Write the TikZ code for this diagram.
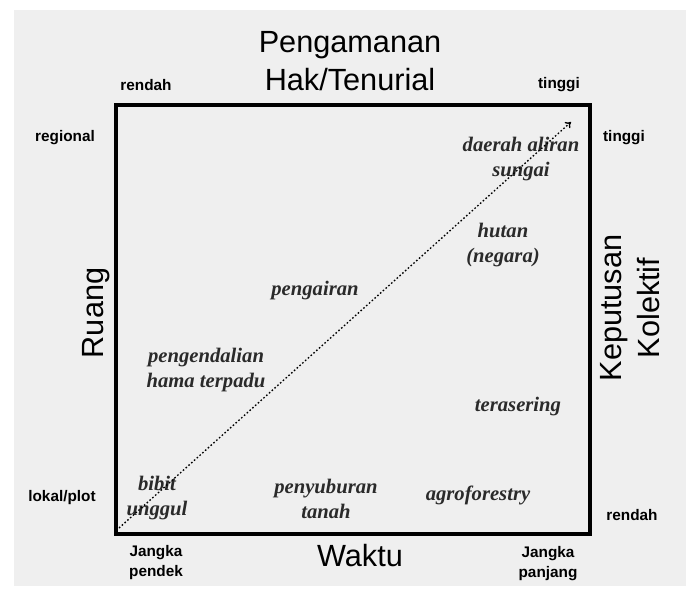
\documentclass[tikz,border=0pt]{standalone}
\usepackage{fontspec}
\setmainfont{Liberation Serif}
\setsansfont{Liberation Sans}
\usepackage{xcolor}
\usepackage{tikz}
\usetikzlibrary{arrows.meta}
\definecolor{bggray}{HTML}{EFEFEF}
\definecolor{inkgray}{HTML}{2A2A2A}
\tikzset{
    axislabel/.style={font=\sffamily\fontsize{23}{28}\selectfont, align=center, inner sep=0pt},
    endlabel/.style={font=\sffamily\bfseries\fontsize{11.5}{15}\selectfont, align=center, inner sep=0pt},
    item/.style={font=\bfseries\itshape\fontsize{15.5}{19}\selectfont, text=inkgray, align=center, inner sep=0pt}
}

\begin{document}
\begin{tikzpicture}[x=0.75pt, y=-0.75pt]
            \useasboundingbox (0,0) rectangle (686,596);
            \fill[white] (0,0) rectangle (686,596);
            \fill[bggray] (14,10) rectangle (686,586);

            % frame corners
            \coordinate (c1) at (116,534);
            \coordinate (c2) at (590,534);
            \coordinate (c3) at (590,105);
            \coordinate (c4) at (116,105);
            \draw[line width=3pt] (c1) -- (c2) -- (c3) -- (c4) -- cycle;

            % axis titles
            \node[axislabel] (hak) at (350,61) {Pengamanan\\Hak/Tenurial};
            \node[axislabel, rotate=90] (ruang) at (96,313) {Ruang};
            \node[axislabel, rotate=90] (kolektif) at (630,308) {Keputusan\\Kolektif};
            \node[axislabel] (waktu) at (360,556) {Waktu};

            % ends of the axes
            \node[endlabel] (hlo) at (146,85) {rendah};
            \node[endlabel] (hhi) at (559,85) {tinggi};
            \node[endlabel] (rhi) at (65,138) {regional};
            \node[endlabel] (rlo) at (62,498) {lokal/plot};
            \node[endlabel] (khi) at (624,138) {tinggi};
            \node[endlabel] (klo) at (632,515) {rendah};
            \node[endlabel] (wlo) at (156,563) {Jangka\\pendek};
            \node[endlabel] (whi) at (548,564) {Jangka\\panjang};

            % practices inside the frame
            \node[item] (das) at (521,159) {daerah aliran\\sungai};
            \node[item] (hutan) at (503,245) {hutan\\(negara)};
            \node[item] (air) at (315,291) {pengairan};
            \node[item] (pht) at (206,370) {pengendalian\\hama terpadu};
            \node[item] (teras) at (518,407) {terasering};
            \node[item] (bibit) at (157,498) {bibit\\unggul};
            \node[item] (subur) at (326,499) {penyuburan\\tanah};
            \node[item] (agro) at (478,495) {agroforestry};

            % diagonal trend
            \coordinate (o) at (119,528);
            \coordinate (tip) at (571,122);
            \draw[line width=1pt, dash pattern=on 1.2pt off 1.6pt, -{To[length=4pt, width=6pt]}] (o) -- (tip);
        \end{tikzpicture}
\end{document}
